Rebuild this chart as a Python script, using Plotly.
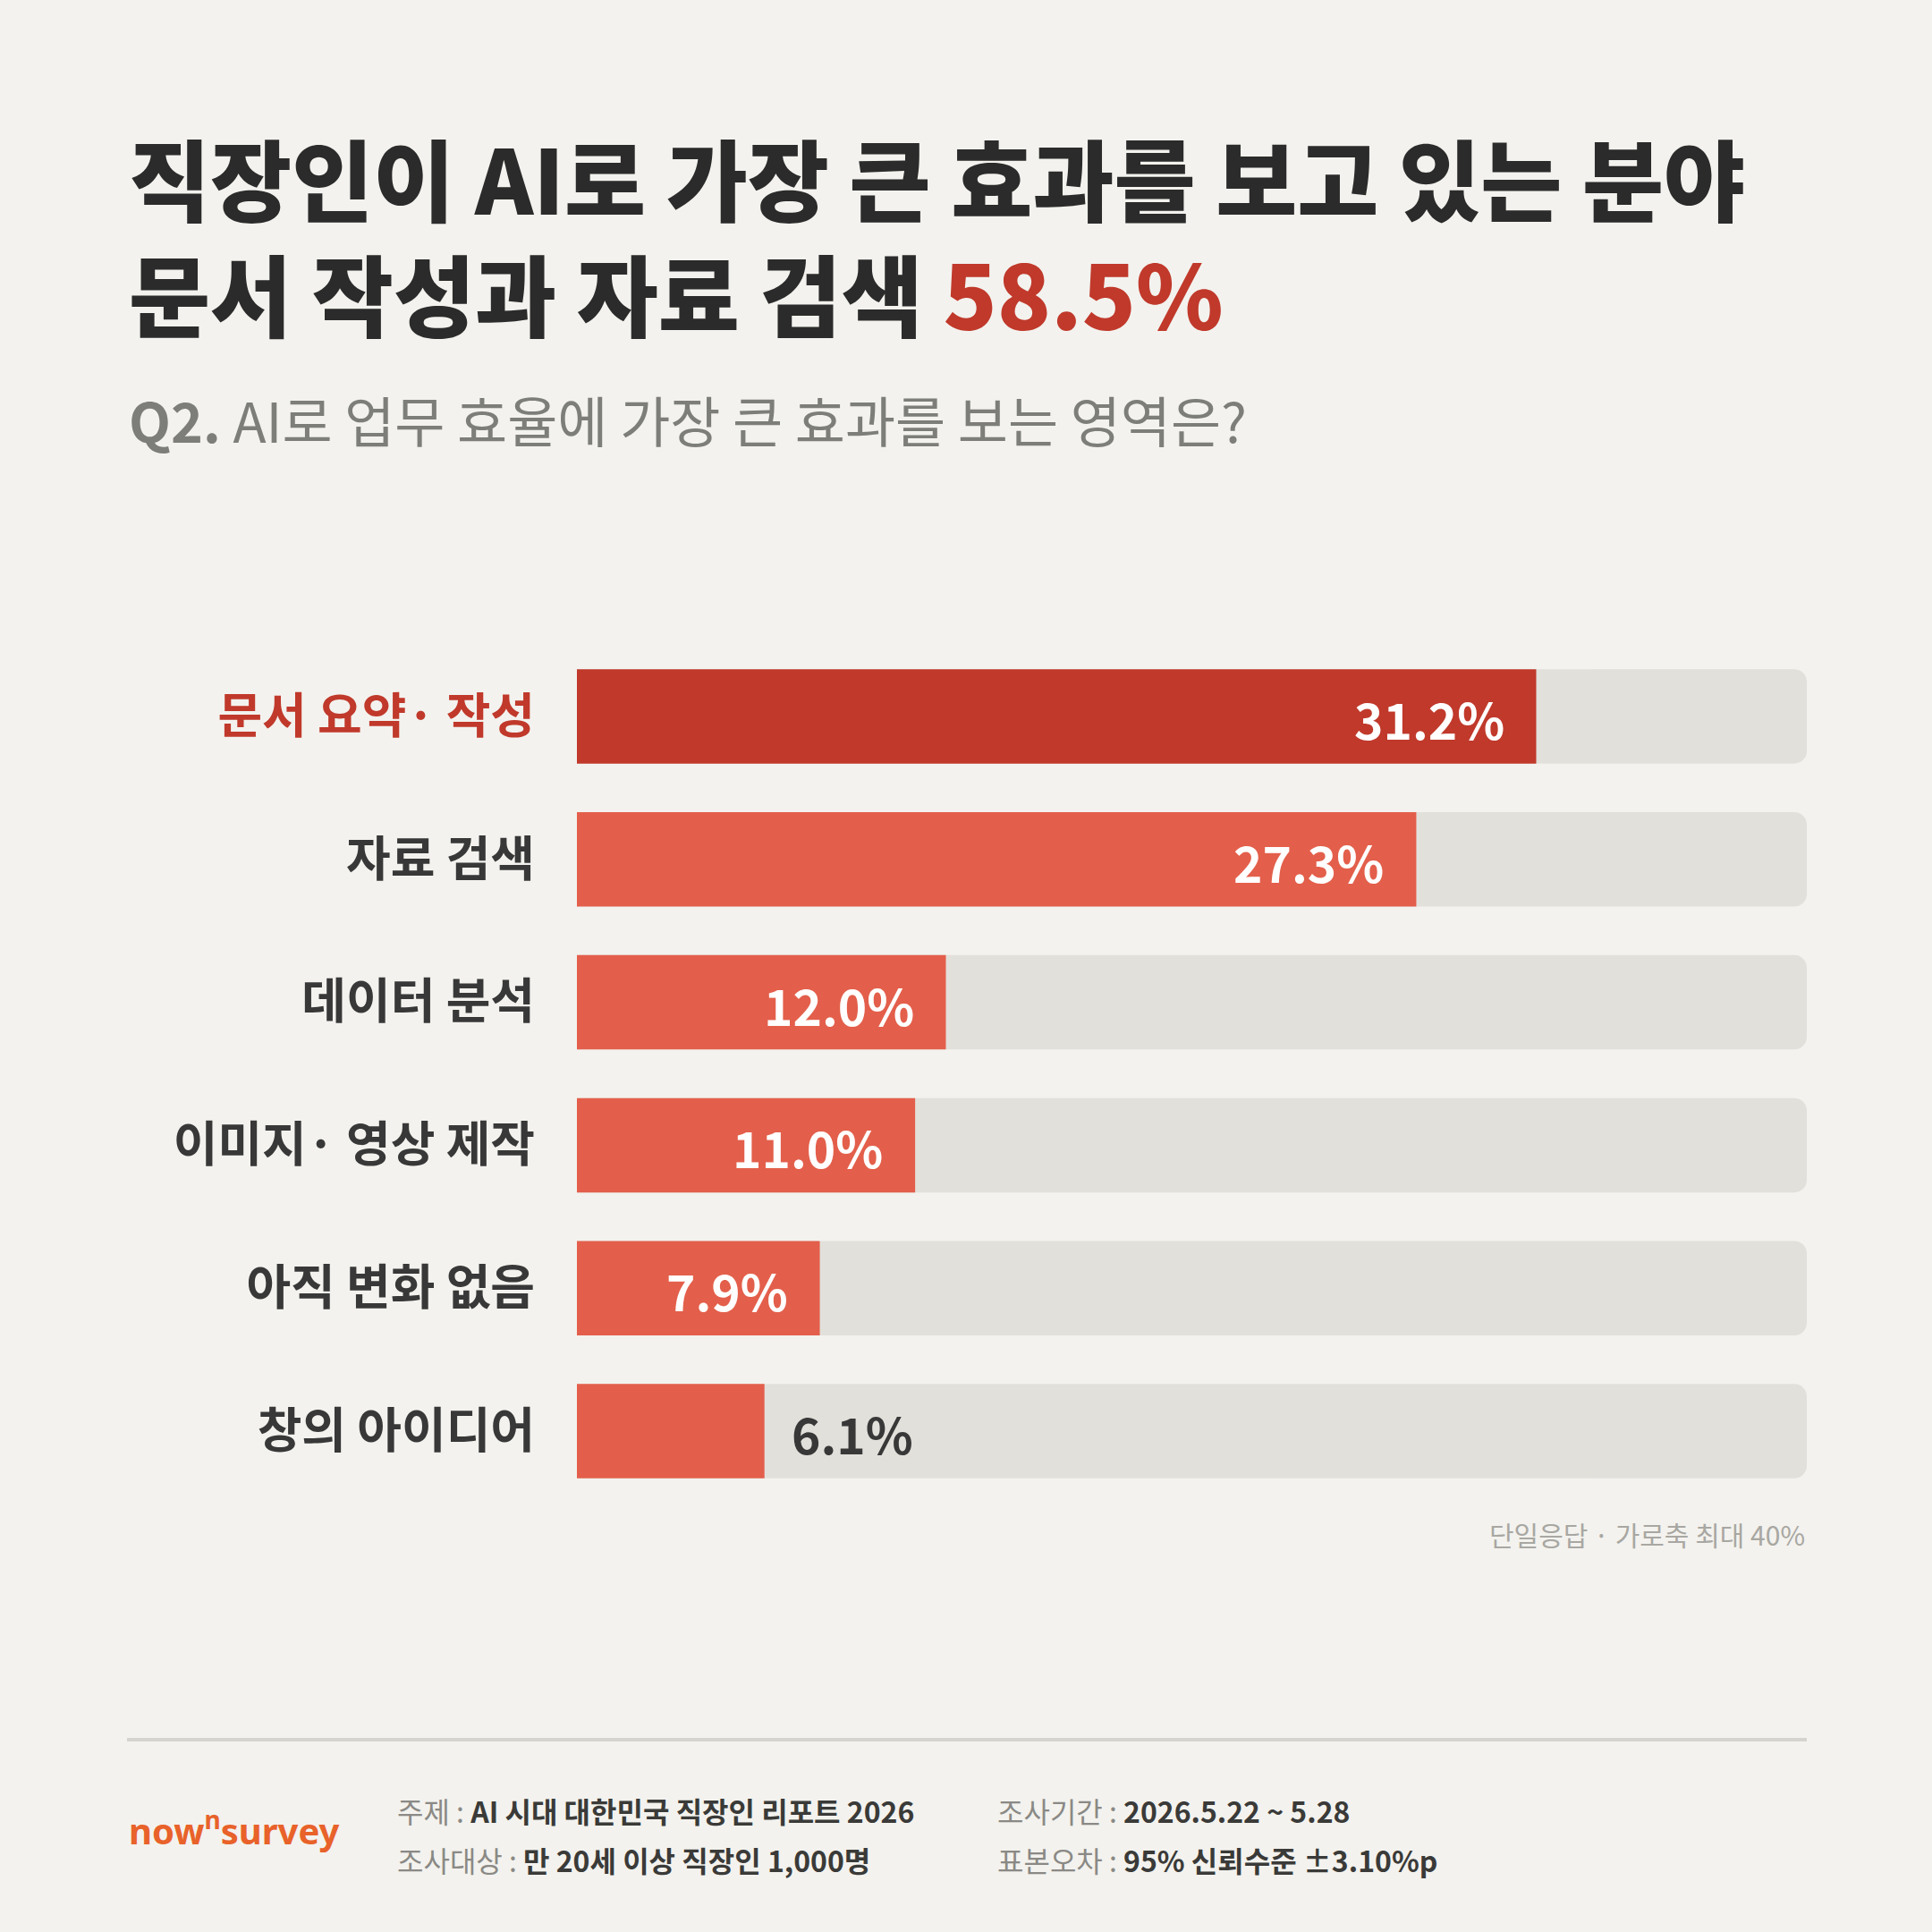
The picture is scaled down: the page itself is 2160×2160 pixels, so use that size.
import plotly.graph_objects as go

# Data
categories = ["문서 요약· 작성", "자료 검색", "데이터 분석", "이미지· 영상 제작", "아직 변화 없음", "창의 아이디어"]
values = [31.2, 27.3, 12.0, 11.0, 7.9, 6.1]
axis_max = 40
value_labels = ["31.2%", "27.3%", "12.0%", "11.0%", "7.9%", "6.1%"]
inside_label = [True, True, True, True, True, False]

title_line1 = "직장인이 AI로 가장 큰 효과를 보고 있는 분야"
title_line2 = "문서 작성과 자료 검색"
title_highlight = "58.5%"
subtitle_q = "Q2."
subtitle = "AI로 업무 효율에 가장 큰 효과를 보는 영역은?"
footnote = "단일응답 · 가로축 최대 40%"
footer_items = [
    ("주제", "AI 시대 대한민국 직장인 리포트 2026"),
    ("조사대상", "만 20세 이상 직장인 1,000명"),
    ("조사기간", "2026.5.22 ~ 5.28"),
    ("표본오차", "95% 신뢰수준 ±3.10%p"),
]

W = H = 2160
BG = "#f3f2ee"
TRACK = "#e2e0db"
RED_DARK = "#c0392b"
RED = "#e35f4b"
INK = "#2b2b2b"
LABEL = "#383838"
FONT = "Noto Sans CJK KR"


def px(x):
    return x / W


def py(y):
    return 1 - y / H


bar_colors = [RED_DARK] + [RED] * (len(values) - 1)
ticktext = [
    f"<span style='color:{RED_DARK}'>{c}</span>" if i == 0 else c
    for i, c in enumerate(categories)
]

fig = go.Figure()

# track bars
fig.add_trace(go.Bar(
    y=categories, x=[axis_max] * len(categories), orientation="h",
    marker=dict(color=TRACK, line=dict(width=0)),
    width=0.66, hoverinfo="skip",
))
# value bars
fig.add_trace(go.Bar(
    y=categories, x=values, orientation="h",
    marker=dict(color=bar_colors, line=dict(width=0)),
    width=0.66, hoverinfo="skip",
))

annotations = []

# value labels
for cat, v, lab, inside in zip(categories, values, value_labels, inside_label):
    annotations.append(dict(
        x=v, y=cat, xref="x", yref="y", text=f"<b>{lab}</b>",
        showarrow=False, xanchor="right" if inside else "left",
        xshift=-34 if inside else 28, yshift=-2,
        font=dict(family=FONT, size=55, color="white" if inside else LABEL),
    ))

# titles
annotations += [
    dict(x=px(142), y=py(262),
         text=(f"{title_line1}<br>{title_line2} "
               f"<span style='color:{RED_DARK}'>{title_highlight}</span>"),
         xanchor="left", yanchor="middle", align="left",
         font=dict(family=FONT, size=99, color=INK, weight=900)),
    dict(x=px(142), y=py(468), text=f"<b>{subtitle_q}</b> {subtitle}",
         xanchor="left", yanchor="middle",
         font=dict(family=FONT, size=61, color="#7d7d7a")),
    dict(x=px(2020), y=py(1715), text=footnote, xanchor="right", yanchor="middle",
         font=dict(family=FONT, size=30, color="#a8a7a2")),
    dict(x=px(142), y=py(2044), text="now<sup>n</sup>survey", xanchor="left", yanchor="middle",
         font=dict(family="Noto Sans", size=40, color="#e8622a", weight=700)),
]

# footer meta
footer_pos = [(442, 2024), (442, 2079), (1113, 2024), (1113, 2079)]
for (key, val), (fx, fy) in zip(footer_items, footer_pos):
    annotations.append(dict(
        x=px(fx), y=py(fy), xanchor="left", yanchor="middle",
        text=f"<span style='color:#8a8985'>{key} : </span><b>{val}</b>",
        font=dict(family=FONT, size=32, color="#3a3a38"),
    ))

for a in annotations:
    a.setdefault("xref", "paper")
    a.setdefault("yref", "paper")
    a.setdefault("showarrow", False)

fig.update_layout(
    width=W, height=H,
    margin=dict(l=0, r=0, t=0, b=0),
    paper_bgcolor=BG, plot_bgcolor=BG,
    barmode="overlay", barcornerradius=14,
    showlegend=False, hovermode=False,
    xaxis=dict(range=[0, axis_max], domain=[px(645), px(2020)],
               visible=False, fixedrange=True),
    yaxis=dict(domain=[py(1680), py(721)], autorange="reversed",
               tickvals=categories, ticktext=ticktext,
               tickfont=dict(family=FONT, size=54, color=LABEL, weight=700),
               ticks="", ticklabelstandoff=46, showgrid=False,
               zeroline=False, showline=False, fixedrange=True),
    shapes=[dict(type="line", xref="paper", yref="paper",
                 x0=px(142), x1=px(2020), y0=py(1945), y1=py(1945),
                 line=dict(color="#d6d4cf", width=4))],
    annotations=annotations,
)

# page margin off so the figure fills the window
fig.write_html("out.html", post_script="document.body.style.margin='0';",
               config={"displayModeBar": False})
